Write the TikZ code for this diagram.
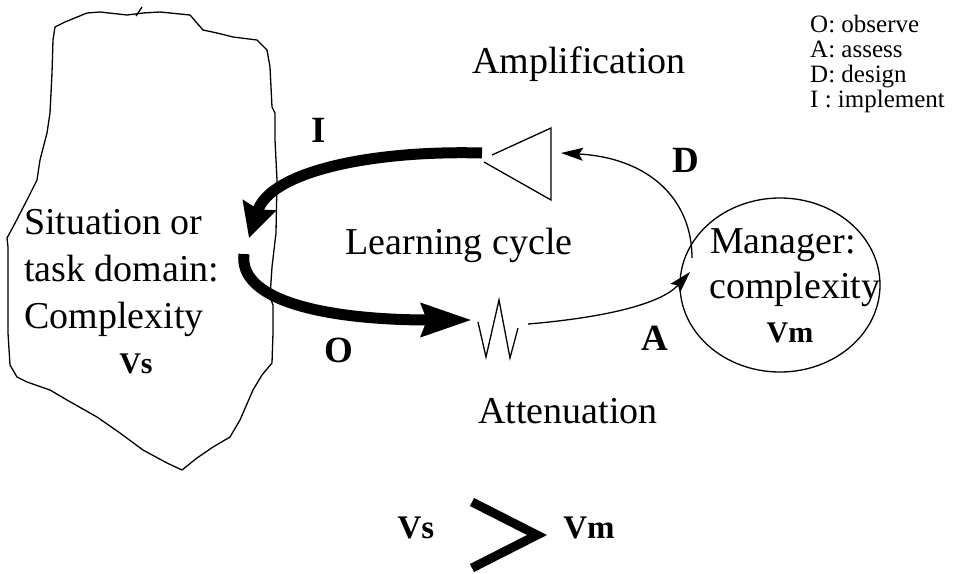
\documentclass[tikz,border=0pt]{standalone}
\usepackage{fontspec}
\setmainfont{Liberation Serif}
\usetikzlibrary{arrows.meta,shapes.geometric}
\begin{document}
\begin{tikzpicture}[x=1pt,y=-1pt,
  txt/.style={inner sep=0pt,anchor=base west,font=\fontsize{38}{46}\selectfont},
  ctxt/.style={inner sep=0pt,anchor=base,font=\fontsize{38}{46}\selectfont},
  lbl/.style={inner sep=0pt,anchor=base,font=\fontsize{37}{44}\selectfont\bfseries},
  var/.style={inner sep=0pt,anchor=base,font=\fontsize{30}{34}\selectfont\bfseries},
  bigvar/.style={inner sep=0pt,anchor=base,font=\fontsize{33}{38}\selectfont\bfseries},
  key/.style={inner sep=0pt,anchor=base west,font=\fontsize{25}{25}\selectfont},
  thin/.style={line width=1.3pt},
  flow/.style={line width=11pt},
  thinarrow/.style={thin,-{Stealth[length=22pt,width=13pt,inset=4pt]}},
]
\useasboundingbox (0,0) rectangle (961,573);

% task domain outline
\draw[thin,line join=round] (55,27) -- (65,22) -- (87,13) -- (100,12) -- (127,15) -- (143,13)
  -- (160,12) -- (190,15) -- (203,30) -- (217,33) -- (233,37) -- (257,40) -- (267,50)
  -- (270,67) -- (272,107) -- (275,113) -- (275,140) -- (277,180) -- (276,233)
  -- (272,267) -- (270,297) -- (273,305) -- (273,333) -- (272,363) -- (262,375)
  -- (253,390) -- (240,420) -- (230,437) -- (213,447) -- (197,458) -- (182,470)
  -- (167,463) -- (143,450) -- (120,433) -- (97,417) -- (67,400) -- (50,390)
  -- (27,382) -- (17,377) -- (10,365) -- (8,333) -- (8,247) -- (7,238) -- (13,227)
  -- (27,200) -- (37,180) -- (40,160) -- (47,133) -- (50,113) -- (52,73) -- (53,40) -- cycle;
\draw[thin] (136,16) -- (142,7);

\node[txt] (sit1) at (24,234) {Situation or};
\node[txt] (sit2) at (24,281) {task domain:};
\node[txt] (sit3) at (24,328) {Complexity};
\node[var] (vs) at (136,373) {Vs};

% amplifier
\draw[thin] (492,155) -- (551,128) -- (551,200) -- (484,162);
\coordinate (ampL) at (482,153);
\coordinate (ampR) at (561,153);

% attenuator
\draw[thin,line join=miter] (478,322) -- (486,357) -- (499,300) -- (510,358) -- (518,328);
\coordinate (attL) at (472,320);
\coordinate (attR) at (528,324);

% manager
\node[draw,thin,ellipse,minimum width=200pt,minimum height=174pt,inner sep=0pt] (mgr) at (780,285) {};
\coordinate (mgrIn) at (690,272);
\coordinate (mgrOut) at (692,258);
\node[txt] (mgr1) at (710,253) {Manager:};
\node[txt] (mgr2) at (709,298) {complexity};
\node[var] (vm) at (790,342) {Vm};

% domain entry and exit points of the cycle
\coordinate (domIn) at (249,238);
\coordinate (domOut) at (244,254);

% the learning cycle
\draw[flow,-{Stealth[length=34pt,width=34pt,inset=4pt]}] (ampL) .. controls (370,150) and (270,172) .. (domIn);
\draw[flow,-{Stealth[length=50pt,width=32pt,inset=5pt]}] (domOut) .. controls (238,302) and (330,320) .. (attL);
\draw[thinarrow] (attR) .. controls (600,318) and (660,305) .. (mgrIn);
\draw[thinarrow] (mgrOut) .. controls (692,200) and (650,158) .. (ampR);

\node[lbl] (lI) at (319,142) {I};
\node[lbl] (lD) at (686,172) {D};
\node[lbl] (lO) at (339,362) {O};
\node[lbl] (lA) at (655,350) {A};

\node[ctxt] (amp) at (579,73) {Amplification};
\node[ctxt] (cyc) at (459,254) {Learning cycle};
\node[ctxt] (att) at (568,423) {Attenuation};

% legend
\node[key] (k1) at (810,32) {O: observe};
\node[key] (k2) at (810,57) {A: assess};
\node[key] (k3) at (810,82) {D: design};
\node[key] (k4) at (810,107) {I : implement};

% variety comparison
\node[bigvar] (cvs) at (416,538) {Vs};
\node[bigvar] (cvm) at (589,538) {Vm};
\draw[line width=9pt,line join=miter,miter limit=10] (472,502) -- (537,535) -- (472,568);
\end{tikzpicture}
\end{document}
